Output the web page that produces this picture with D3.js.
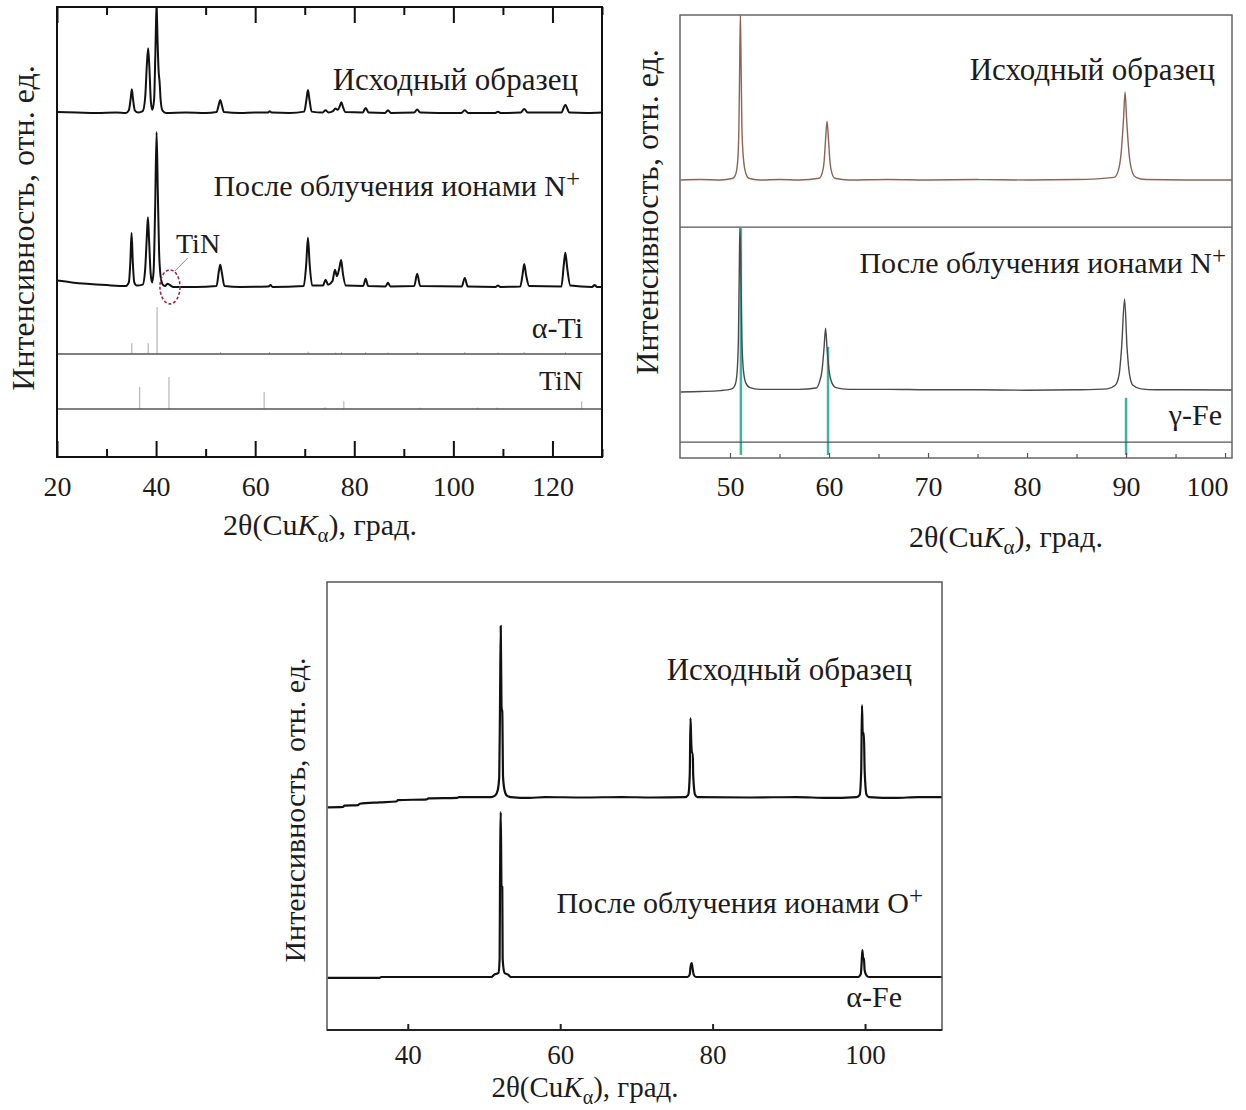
<!DOCTYPE html>
<html>
<head>
<meta charset="utf-8">
<script src="https://cdnjs.cloudflare.com/ajax/libs/d3/7.8.5/d3.min.js"></script>
<style>
body { margin: 0; background: #fff; }
svg text { font-family: "Liberation Serif", "Times New Roman", serif; fill: #1c1c1c; }
</style>
</head>
<body>
<div id="viz"></div>
<script>
//***************** data: Ti (top left) ***************************
var tiTicks = [20, 40, 60, 80, 100, 120];
var tiMinor = [30, 50, 70, 90, 110, 130];
// [2theta, intensity above the trace baseline]
var tiInitial = [[20,0.2],[24,0.1],[28,0],[32,0.1],[33.9,0],[34.5,0.6],[34.85,3],[35.1,5.3],[35.35,3],[35.7,0.6],[36.4,0.1],
    [37.3,0.4],[37.8,3.5],[38.15,11],[38.4,14.4],[38.65,10],[38.95,2.5],[39.25,0.7],[39.6,3],[39.85,13],[40.1,23.6],[40.3,16],
    [40.5,9.5],[40.7,7],[40.95,2.5],[41.3,0.5],[42,0],[46,0.1],[50,0],[52.2,0.2],[52.65,1.8],[52.95,2.9],[53.25,1.8],[53.7,0.2],
    [57,0],[60,0.1],[62.6,0.1],[62.95,0.4],[63.3,0.1],[67,0],[69.9,0.3],[70.35,3],[70.65,5.1],[70.95,3],[71.4,0.3],[73.6,0.1],
    [74.2,0.6],[74.8,0.1],[75.7,0.4],[76.2,1],[76.7,0.7],[77.1,1.6],[77.4,2.4],[77.7,1.4],[78.2,0.2],[81.7,0.1],[82.3,1.1],
    [82.9,0.1],[86.2,0],[86.8,0.6],[87.4,0],[92.1,0.1],[92.7,0.8],[93.3,0.1],[97,0],[101.6,0],[102.3,0.6],[103,0],[108.4,0],
    [109,0.3],[109.6,0],[113.6,0.1],[114.3,0.9],[115,0.1],[121.8,0.1],[122.6,1.8],[123.4,0.1],[127,0],[130,0.1]];
var tiAfterN = [[20,1.4],[23,1.0],[26,0.7],[30,0.4],[33.9,0.2],[34.5,1],[34.8,5.5],[35.05,12],[35.3,5.5],[35.6,1],[36.1,0.3],
    [37.3,0.5],[37.8,4],[38.1,10.5],[38.35,15.5],[38.6,10],[38.9,3],[39.2,1],[39.5,3.5],[39.8,17],[40.1,34.4],[40.35,21],
    [40.6,8],[40.9,2.5],[41.3,0.6],[41.8,0.2],[42.3,0.7],[42.8,0.4],[43.5,0],[48,0],[52.2,0.2],[52.65,3.3],[52.95,4.9],
    [53.25,3.3],[53.8,0.2],[57,0],[62.7,0.1],[63.1,0.4],[63.5,0],[69.8,0.2],[70.3,5],[70.65,10.9],[71.0,5],[71.5,0.3],
    [73.7,0.3],[74.2,1.6],[74.7,0.5],[75.6,1.3],[76.1,3.8],[76.5,2.4],[77,4.3],[77.35,6],[77.7,3],[78.3,0.3],[81.8,0.2],
    [82.3,1.8],[82.8,0.2],[86.3,0.1],[86.8,0.9],[87.3,0.1],[92.1,0.2],[92.7,2.9],[93.3,0.2],[101.7,0.1],[102.3,2],[102.9,0.1],
    [108.5,0],[109,0.3],[109.5,0],[113.5,0.1],[114,3],[114.3,5.1],[114.7,2.5],[115.3,0.2],[121.8,0.1],[122.3,5],[122.6,7.6],
    [123,4],[123.6,0.3],[128,0],[128.5,0.4],[129,0],[130,0]];
// reference lines [2theta, height]
var alphaTiLines = [[35.1,2.4],[38.4,2.4],[40.2,10.4],[53.0,0.4],[62.9,0.4],[70.7,0.5],[76.2,0.3],[77.4,0.4],[82.3,0.4],
    [86.8,0.3],[92.7,0.4],[102.3,0.4],[109.0,0.3],[114.3,0.4],[122.6,0.4]];
var tinLines = [[36.7,4.9],[42.6,7.1],[61.8,3.8],[74.1,0.4],[77.9,1.7],[93.3,0.3],[104.9,0.3],[108.8,0.3],[125.9,1.7]];

//***************** data: gamma-Fe (top right) ***************************
var gfeTicks = [50, 60, 70, 80, 90, 100];
var gfeMinor = [55, 65, 75, 85, 95];
var gfeInitial = [[45,0],[47,0.1],[49,0],[50.3,0.4],[50.6,1.5],[50.8,5],[50.9,12],[51.0,30],[51.05,37.2],[51.1,30],[51.2,12],
    [51.35,5],[51.6,1.5],[51.9,0.4],[53,0],[55,0.1],[57,0],[59.0,0.4],[59.3,1.5],[59.5,4],[59.65,9],[59.8,13.3],[59.95,9],
    [60.1,4],[60.3,1.5],[60.6,0.4],[62,0],[66,0.1],[70,0],[75,0.1],[80,0],[85,0.1],[88.8,0.6],[89.2,2],[89.5,6],[89.75,14],
    [89.9,19.9],[90.05,14],[90.3,6],[90.6,2],[91.0,0.6],[92,0.1],[96,0],[100.7,0]];
var gfeAfterN = [[45,0],[47,0.1],[49,0.3],[50.2,0.7],[50.5,1.5],[50.7,4],[50.85,12],[50.95,30],[51.0,37],[51.08,30],[51.2,12],
    [51.35,5],[51.6,2],[52,1],[53,0.6],[55,0.6],[57,0.6],[58.7,0.9],[59.0,2],[59.3,5],[59.5,10],[59.65,14.4],[59.8,10],
    [60.0,5],[60.3,2],[60.7,1],[62,0.6],[66,0.6],[70,0.5],[75,0.5],[80,0.4],[85,0.5],[88.1,0.7],[88.9,1.5],[89.3,4],
    [89.55,10],[89.85,21],[90.1,10],[90.35,4],[90.7,1.5],[91.5,0.7],[93,0.5],[96,0.5],[100.7,0.45]];
var gammaFeLines = [[51.1,51.2],[59.9,24.4],[90.0,12.9]];

//***************** data: alpha-Fe (bottom) ***************************
var afeTicks = [40, 60, 80, 100];
var afeInitial = [[29.5,-2.3],[31.5,-2.2],[31.7,-1.9],[33.5,-1.8],[33.7,-1.5],[36.3,-1.2],[38.5,-1.0],[38.7,-0.7],[42.5,-0.5],
    [42.7,-0.3],[46.5,-0.2],[46.7,0],[51.0,0],[51.5,0.4],[51.8,1.5],[52.0,4.5],[52.1,20],[52.2,38.2],[52.3,20],[52.4,19],
    [52.5,4.5],[52.7,1.5],[53.0,0.3],[53.5,0],[56,-0.2],[58,0],[63,-0.1],[68,0],[72,-0.1],[76.4,0],[76.8,0.5],[77.0,5],
    [77.1,17.6],[77.2,12],[77.3,9.8],[77.4,9.8],[77.45,5],[77.7,0.5],[78,0],[85,-0.1],[91,0],[95,-0.2],[98.9,0],[99.3,0.5],
    [99.5,6],[99.6,20.5],[99.7,14],[99.85,14.3],[99.95,6],[100.2,0.5],[100.5,0],[104,-0.2],[107,0],[110.1,0]];
var afeAfterO = [[29.5,-0.2],[36.3,-0.2],[36.5,0],[51,0],[51.3,0.5],[51.9,0.9],[52.05,4],[52.1,20],[52.2,36.8],[52.3,20.1],
    [52.4,20.1],[52.45,4],[52.7,0.9],[53.2,0.5],[53.5,0],[65,0],[76.7,0],[77.0,0.6],[77.1,2.2],[77.25,3.1],[77.35,2.2],
    [77.5,0.6],[77.8,0],[99.1,0],[99.45,0.7],[99.55,3],[99.65,6],[99.75,4.2],[99.85,4.2],[99.95,1.5],[100.2,0.3],[100.5,0],
    [110.1,0]];

var svg = d3.select("#viz").append("svg")
    .attr("width", 1246)
    .attr("height", 1110);

function makePanel(name, box, xDomain) {
    var x = d3.scaleLinear().domain(xDomain).range([box.left, box.right]);
    var y = d3.scaleLinear().domain([0, 100]).range([box.bottom, box.top]);
    svg.append("clipPath").attr("id", "clip-" + name)
        .append("rect")
        .attr("x", box.left).attr("y", box.top)
        .attr("width", box.right - box.left).attr("height", box.bottom - box.top);
    var g = svg.append("g");
    var plot = g.append("g").attr("clip-path", "url(#clip-" + name + ")");
    return {g: g, plot: plot, x: x, y: y, box: box};
}

function drawTrace(p, data, offset, color, w) {
    var line = d3.line()
        .x(function(d) { return p.x(d[0]); })
        .y(function(d) { return p.y(d[1] + offset); })
        .curve(d3.curveMonotoneX);
    p.plot.append("path")
        .datum(data)
        .attr("d", line)
        .attr("fill", "none")
        .attr("stroke", color)
        .attr("stroke-width", w)
        .attr("stroke-linejoin", "round");
}

function drawSticks(p, data, base, color, w) {
    p.plot.selectAll(null)
        .data(data)
        .enter()
        .append("line")
        .attr("x1", function(d) { return p.x(d[0]); })
        .attr("x2", function(d) { return p.x(d[0]); })
        .attr("y1", p.y(base))
        .attr("y2", function(d) { return p.y(base + d[1]); })
        .attr("stroke", color)
        .attr("stroke-width", w);
}

function hLine(p, level, color, w) {
    p.g.append("line")
        .attr("x1", p.box.left).attr("x2", p.box.right)
        .attr("y1", p.y(level)).attr("y2", p.y(level))
        .attr("stroke", color).attr("stroke-width", w);
}

function frame(p, color, w) {
    p.g.append("rect")
        .attr("x", p.box.left).attr("y", p.box.top)
        .attr("width", p.box.right - p.box.left)
        .attr("height", p.box.bottom - p.box.top)
        .attr("fill", "none").attr("stroke", color).attr("stroke-width", w);
}

function ticks(p, axisFn, yPos, values, size, color, w, labelSize, pad) {
    var ax = axisFn(p.x).tickValues(values).tickSize(-size).tickPadding(pad || 0);
    if (!labelSize) ax.tickFormat("");
    var a = p.g.append("g")
        .attr("transform", "translate(0," + yPos + ")")
        .call(ax);
    a.select(".domain").remove();
    a.selectAll(".tick line").attr("stroke", color).attr("stroke-width", w);
    a.selectAll(".tick text")
        .attr("fill", "#1c1c1c")
        .style("font-family", '"Liberation Serif", "Times New Roman", serif')
        .style("font-size", (labelSize || 0) + "px");
    return a;
}

function label(g, x, y, txt, size, anchor) {
    return g.append("text")
        .attr("x", x).attr("y", y)
        .attr("text-anchor", anchor || "end")
        .style("font-size", size + "px")
        .text(txt);
}

function labelSup(g, x, y, txt, sup, size) {
    var t = g.append("text")
        .attr("x", x).attr("y", y)
        .attr("text-anchor", "end")
        .style("font-size", size + "px");
    t.append("tspan").text(txt);
    t.append("tspan").attr("dy", -9).style("font-size", (size - 5) + "px").text(sup);
    return t;
}

function xTitle(g, cx, y, size) {
    var t = g.append("text")
        .attr("x", cx).attr("y", y)
        .attr("text-anchor", "middle")
        .style("font-size", size + "px");
    t.append("tspan").text("2\u03b8(Cu");
    t.append("tspan").style("font-style", "italic").text("K");
    t.append("tspan").attr("dy", 7).style("font-size", (size - 9) + "px").text("\u03b1");
    t.append("tspan").attr("dy", -7).text("), \u0433\u0440\u0430\u0434.");
}

function yTitle(g, x, cy, size) {
    return g.append("text")
        .attr("transform", "translate(" + x + "," + cy + ") rotate(-90)")
        .attr("text-anchor", "middle")
        .style("font-size", size + "px")
        .text("\u0418\u043d\u0442\u0435\u043d\u0441\u0438\u0432\u043d\u043e\u0441\u0442\u044c, \u043e\u0442\u043d. \u0435\u0434.");
}

var INITIAL = "\u0418\u0441\u0445\u043e\u0434\u043d\u044b\u0439 \u043e\u0431\u0440\u0430\u0437\u0435\u0446";
var AFTER = "\u041f\u043e\u0441\u043b\u0435 \u043e\u0431\u043b\u0443\u0447\u0435\u043d\u0438\u044f \u0438\u043e\u043d\u0430\u043c\u0438 ";

//***************** Ti panel ***************************
function createTi() {
    var p = makePanel("ti", {left: 57, right: 602, top: 7, bottom: 457}, [20, 130]);
    var offInit = 76.45, offN = 37.8, baseAlpha = 22.9, baseTiN = 10.67;

    drawSticks(p, alphaTiLines, baseAlpha, "#a8a8a8", 1);
    drawSticks(p, tinLines, baseTiN, "#a8a8a8", 1);
    hLine(p, baseAlpha, "#555", 1.5);
    hLine(p, baseTiN, "#555", 1.5);
    drawTrace(p, tiInitial, offInit, "#111", 2);
    drawTrace(p, tiAfterN, offN, "#111", 2);

    // TiN mark
    p.g.append("ellipse")
        .attr("cx", p.x(42.8)).attr("cy", p.y(offN))
        .attr("rx", 10).attr("ry", 17)
        .attr("fill", "none").attr("stroke", "#9a2a48")
        .attr("stroke-width", 1.6).attr("stroke-dasharray", "3,2");
    p.g.append("line")
        .attr("x1", p.x(43.8)).attr("y1", 271)
        .attr("x2", p.x(46.4)).attr("y2", 258)
        .attr("stroke", "#888").attr("stroke-width", 1);
    label(p.g, 176, 253, "TiN", 28, "start");

    frame(p, "#111", 2);
    ticks(p, d3.axisBottom, p.box.bottom, tiTicks, 16, "#111", 2, 28, 19);
    ticks(p, d3.axisBottom, p.box.bottom, tiMinor, 8, "#111", 2);
    ticks(p, d3.axisTop, p.box.top, tiTicks, 16, "#111", 2);
    ticks(p, d3.axisTop, p.box.top, tiMinor, 8, "#111", 2);

    label(p.g, 578, 90, INITIAL, 31);
    labelSup(p.g, 580, 196, AFTER + "N", "+", 30);
    label(p.g, 583, 338, "\u03b1-Ti", 30);
    label(p.g, 583, 390, "TiN", 28);
    yTitle(p.g, 34, 228, 32);
    xTitle(p.g, 320, 535, 30);
}

//***************** gamma-Fe panel ***************************
function createGammaFe() {
    var p = makePanel("gfe", {left: 680, right: 1232, top: 15, bottom: 458}, [44.95, 100.7]);
    var offInit = 62.75, offN = 14.9, stickBase = 0.68, refLine = 3.6, divider = 52.1;

    drawSticks(p, gammaFeLines, stickBase, "#3fb3a2", 2.5);
    hLine(p, refLine, "#555", 1.3);
    hLine(p, divider, "#555", 1.3);
    drawTrace(p, gfeInitial, offInit, "#8a6458", 1.4);
    drawTrace(p, gfeAfterN, offN, "#4a4a4a", 1.4);

    frame(p, "#666", 1.5);
    var a = ticks(p, d3.axisBottom, p.box.bottom, gfeTicks, 5, "#555", 1.2, 28, 18);
    // last label is pulled inside, as in the original
    a.selectAll(".tick text").filter(function(d) { return d === 100; }).attr("dx", -18);
    ticks(p, d3.axisBottom, p.box.bottom, gfeMinor, 4, "#555", 1.2);

    label(p.g, 1215, 80, INITIAL, 31);
    labelSup(p.g, 1226, 273, AFTER + "N", "+", 30);
    label(p.g, 1222, 425, "\u03b3-Fe", 30);

    // doubled (ghost) axis title, as in the scanned original
    svg.append("clipPath").attr("id", "ghost")
        .append("rect").attr("x", 660).attr("y", 95).attr("width", 12).attr("height", 280);
    yTitle(p.g, 669, 234, 32)
        .attr("clip-path", "url(#ghost)")
        .style("fill", "#666");
    yTitle(p.g, 658, 212, 32);
    xTitle(p.g, 1006, 547, 30);
}

//***************** alpha-Fe panel ***************************
function createAlphaFe() {
    var p = makePanel("afe", {left: 327, right: 942, top: 582, bottom: 1030}, [29.4, 110.1]);
    var offInit = 52.0, offO = 11.83;

    drawTrace(p, afeInitial, offInit, "#111", 2.2);
    drawTrace(p, afeAfterO, offO, "#111", 2.2);

    frame(p, "#555", 1.5);
    p.g.append("line")
        .attr("x1", p.box.left).attr("x2", p.box.right)
        .attr("y1", p.box.bottom).attr("y2", p.box.bottom)
        .attr("stroke", "#222").attr("stroke-width", 2);
    ticks(p, d3.axisBottom, p.box.bottom, afeTicks, 6, "#222", 2, 27, 15);

    label(p.g, 912, 680, INITIAL, 31);
    labelSup(p.g, 923, 913, AFTER + "O", "+", 30);
    label(p.g, 902, 1007, "\u03b1-Fe", 30);
    yTitle(p.g, 305, 810, 30);
    xTitle(p.g, 585, 1097, 29);
}

createTi();
createGammaFe();
createAlphaFe();
</script>
</body>
</html>
